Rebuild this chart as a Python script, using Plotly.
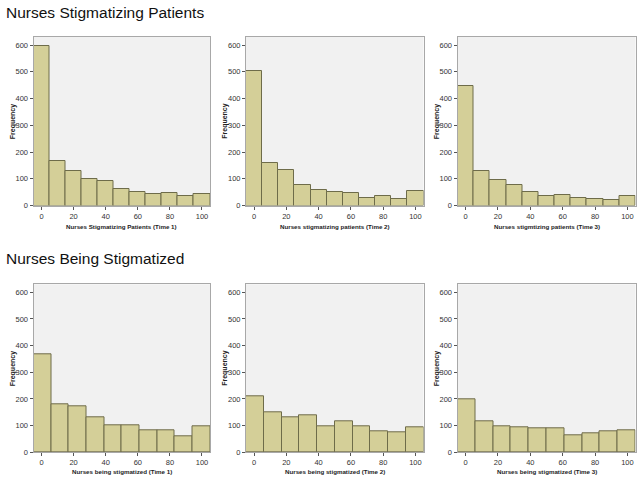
import plotly.graph_objects as go

# ---------------- data ----------------
top_bin_start = -5
top_bin_size = 10
bottom_bin_start = -5
bottom_bin_size = 11

stig_t1 = [595, 168, 130, 100, 90, 62, 50, 43, 48, 36, 42]
stig_t2 = [502, 160, 133, 77, 58, 52, 47, 28, 36, 25, 53]
stig_t3 = [448, 130, 95, 76, 52, 37, 40, 28, 24, 21, 36]

being_t1 = [368, 180, 173, 131, 100, 103, 82, 82, 60, 97]
being_t2 = [210, 150, 130, 138, 96, 116, 97, 78, 74, 92]
being_t3 = [200, 117, 98, 94, 91, 91, 64, 71, 79, 84]

x_titles = [
    "Nurses Stigmatizing Patients (Time 1)",
    "Nurses stigmatizing patients (Time 2)",
    "Nurses stigmtizing patients (Time 3)",
    "Nurses being stigmatized (Time 1)",
    "Nurses being stigmatized (Time 2)",
    "Nurses being stigmatized (Time 3)",
]
y_title = "Frequency"
section_titles = ["Nurses Stigmatizing Patients", "Nurses Being Stigmatized"]
x_ticks = [0, 20, 40, 60, 80, 100]
y_ticks = [0, 100, 200, 300, 400, 500, 600]

# ---------------- figure ----------------
W, H = 642, 481
fig = go.Figure()

series = [
    (stig_t1, top_bin_start, top_bin_size),
    (stig_t2, top_bin_start, top_bin_size),
    (stig_t3, top_bin_start, top_bin_size),
    (being_t1, bottom_bin_start, bottom_bin_size),
    (being_t2, bottom_bin_start, bottom_bin_size),
    (being_t3, bottom_bin_start, bottom_bin_size),
]

x_domains_px = [(33.5, 210), (246, 423.5), (457.5, 635.5)]
y_domains_px = [(37, 205.5), (284.3, 452.3)]
x_title_y_px = [226, 471.5]

font_family = "Liberation Sans, Arial, sans-serif"
tick_font = dict(size=7.5, color="#333", family=font_family)
layout_axes = {}
annotations = []
for i, (vals, start, size) in enumerate(series):
    n = i + 1
    row, col = divmod(i, 3)
    centers = [start + size * (k + 0.5) for k in range(len(vals))]
    xa = "x" if n == 1 else f"x{n}"
    ya = "y" if n == 1 else f"y{n}"
    fig.add_trace(go.Bar(
        x=centers, y=vals, width=[size] * len(vals),
        xaxis=xa, yaxis=ya,
        marker=dict(color="#d4cf98", line=dict(color="#6e6c4a", width=1)),
        showlegend=False, hoverinfo="x+y",
    ))
    x0, x1 = x_domains_px[col]
    t0, t1 = y_domains_px[row]
    xkey = "xaxis" if n == 1 else f"xaxis{n}"
    ykey = "yaxis" if n == 1 else f"yaxis{n}"
    layout_axes[xkey] = dict(
        domain=[x0 / W, x1 / W], anchor=ya, range=[-5, 105],
        tickvals=x_ticks, ticks="outside", ticklen=3, tickcolor="#555",
        tickfont=tick_font,
        showline=True, linecolor="#a8a8a8", linewidth=1, mirror=True,
        showgrid=False, zeroline=False, fixedrange=True, automargin=False,
    )
    layout_axes[ykey] = dict(
        domain=[1 - t1 / H, 1 - t0 / H], anchor=xa, range=[0, 630],
        tickvals=y_ticks, ticks="outside", ticklen=3, tickcolor="#555",
        tickfont=tick_font,
        showline=True, linecolor="#a8a8a8", linewidth=1, mirror=True,
        showgrid=False, zeroline=False, fixedrange=True, automargin=False,
    )
    # x axis title
    annotations.append(dict(
        text=f"<b>{x_titles[i]}</b>", xref="paper", yref="paper",
        x=(x0 + x1) / 2 / W, y=1 - x_title_y_px[row] / H,
        xanchor="center", yanchor="middle", showarrow=False,
        font=dict(size=6.2, color="#222", family=font_family),
    ))
    # y axis title
    annotations.append(dict(
        text=f"<b>{y_title}</b>", xref="paper", yref="paper",
        x=(x0 - 20.5) / W, y=1 - (t0 + t1) / 2 / H,
        xanchor="center", yanchor="middle", showarrow=False, textangle=-90,
        font=dict(size=7, color="#222", family=font_family),
    ))

for text, ypx in zip(section_titles, [12, 258]):
    annotations.append(dict(
        text=text, xref="paper", yref="paper",
        x=4 / W, y=1 - ypx / H, xanchor="left", yanchor="middle",
        showarrow=False, font=dict(size=15.5, color="#111", family=font_family),
    ))

fig.update_layout(
    width=W, height=H,
    margin=dict(l=0, r=0, t=0, b=0),
    paper_bgcolor="white", plot_bgcolor="#f1f1f1",
    bargap=0,
    font=dict(family=font_family),
    annotations=annotations,
    **layout_axes,
)

fig.write_html(
    "out.html",
    config={"displayModeBar": False},
    post_script="document.body.style.margin='0px';document.body.style.overflow='hidden';",
)
